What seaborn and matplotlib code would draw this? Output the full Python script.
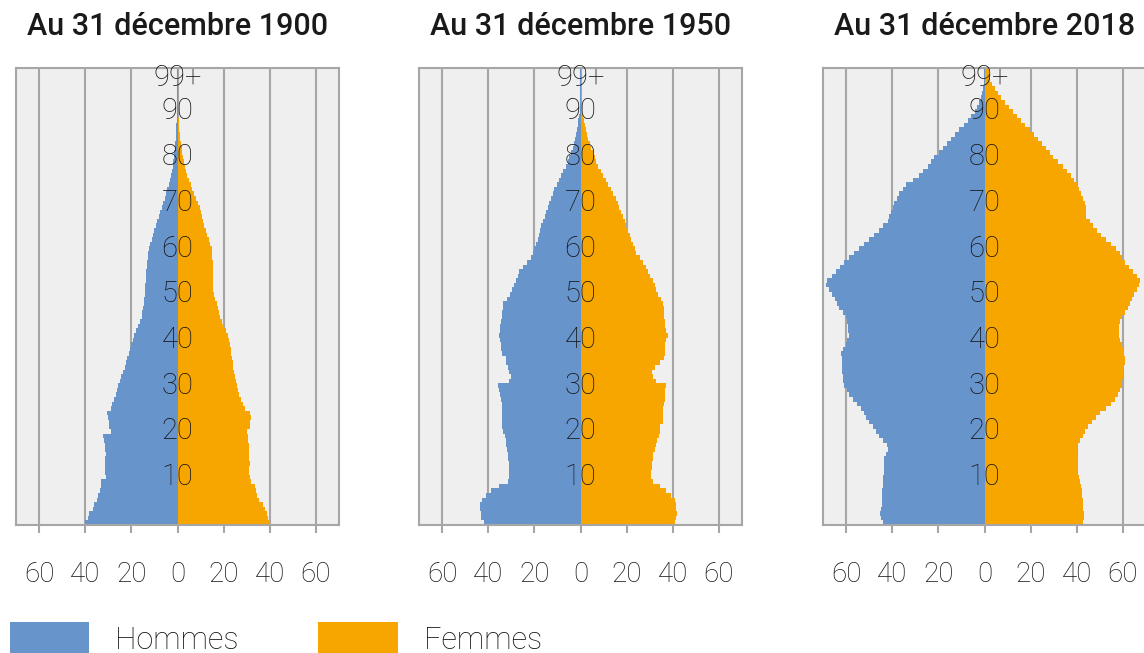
import pandas as pd
import numpy as np
import matplotlib
matplotlib.use("Agg")
import matplotlib.pyplot as plt
from matplotlib.patches import Patch
import seaborn as sns

# Effectifs par âge (milliers), âges 0 à 99+
ages = list(range(100))
age_labels = ["10", "20", "30", "40", "50", "60", "70", "80", "90", "99+"]
titles = ["Au 31 décembre 1900", "Au 31 décembre 1950", "Au 31 décembre 2018"]
ticks = [-60, -40, -20, 0, 20, 40, 60]
tick_labels = ["60", "40", "20", "0", "20", "40", "60"]

hommes_1900 = [
    40.3, 39.0, 38.2, 36.8, 36.0, 35.0, 34.3, 33.8, 33.2, 33.0,
    31.0, 31.6, 31.5, 31.4, 31.3, 31.2, 31.3, 31.4, 31.8, 32.3,
    28.8, 29.5, 29.7, 30.0, 30.6, 29.0, 28.2, 27.5, 26.8, 26.3,
    25.8, 25.0, 24.3, 23.6, 22.9, 22.3, 21.7, 21.1, 20.5, 20.0,
    19.4, 18.7, 18.0, 17.2, 16.4, 15.6, 15.2, 14.9, 14.6, 14.4,
    14.3, 14.1, 13.9, 13.7, 13.6, 13.5, 13.3, 13.1, 12.9, 12.7,
    12.4, 11.8, 11.2, 10.6, 10.0, 9.4, 8.8, 8.2, 7.5, 6.9,
    6.2, 5.6, 5.0, 4.4, 3.8, 3.3, 2.9, 2.5, 2.1, 1.8,
    1.6, 1.4, 1.2, 1.0, 0.8, 0.7, 0.6, 0.5, 0.4, 0.35,
    0.3, 0.25, 0.2, 0.15, 0.1, 0.1, 0.05, 0.05, 0.03, 0.03,
]
femmes_1900 = [
    40.1, 39.3, 38.7, 37.9, 37.2, 35.5, 34.3, 33.9, 33.6, 32.0,
    31.4, 31.2, 31.2, 31.3, 31.1, 31.2, 31.0, 30.8, 30.7, 30.6,
    30.0, 31.4, 31.6, 31.7, 31.6, 29.3, 28.4, 27.6, 26.8, 26.3,
    25.9, 25.5, 25.0, 24.6, 24.2, 23.9, 23.6, 23.3, 23.0, 22.8,
    22.5, 21.7, 20.9, 20.0, 19.2, 18.4, 17.9, 17.4, 17.0, 16.3,
    15.7, 15.6, 15.6, 15.5, 15.5, 15.4, 15.3, 15.2, 15.0, 14.9,
    14.8, 14.3, 13.8, 13.0, 12.2, 11.4, 11.0, 10.5, 10.0, 9.6,
    9.1, 8.2, 7.3, 6.5, 5.7, 4.9, 4.2, 3.6, 3.1, 2.8,
    2.5, 2.1, 1.8, 1.4, 1.2, 1.0, 0.8, 0.6, 0.5, 0.4,
    0.3, 0.25, 0.2, 0.15, 0.1, 0.08, 0.06, 0.05, 0.04, 0.04,
]
hommes_1950 = [
    41.7, 43.0, 43.3, 43.4, 43.5, 42.8, 41.0, 38.8, 35.2, 31.6,
    30.9, 30.8, 30.9, 31.1, 31.6, 31.6, 32.0, 32.3, 32.4, 32.6,
    33.8, 34.0, 34.0, 34.1, 34.0, 34.2, 34.1, 34.3, 35.0, 35.3,
    35.9, 30.9, 30.1, 30.9, 31.6, 32.3, 32.5, 34.2, 34.5, 34.6,
    34.8, 35.2, 34.9, 34.8, 34.6, 34.2, 34.0, 33.8, 33.5, 32.0,
    30.5, 29.6, 28.8, 28.0, 27.2, 26.5, 24.8, 23.0, 21.4, 20.6,
    20.0, 19.3, 18.6, 18.1, 17.6, 17.1, 16.4, 15.6, 14.9, 14.2,
    13.5, 12.8, 12.0, 11.3, 10.3, 9.4, 8.4, 7.4, 6.5, 5.5,
    4.8, 4.0, 3.3, 2.8, 2.3, 1.9, 1.5, 1.2, 0.9, 0.6,
    0.4, 0.3, 0.2, 0.15, 0.1, 0.08, 0.06, 0.05, 0.04, 0.04,
]
femmes_1950 = [
    40.9, 41.5, 41.7, 41.6, 41.5, 40.9, 39.4, 37.2, 34.3, 31.4,
    30.7, 30.6, 30.8, 31.2, 31.4, 31.6, 32.5, 32.9, 33.2, 34.0,
    34.3, 34.6, 35.6, 35.8, 35.9, 35.8, 36.3, 36.5, 36.6, 36.8,
    37.2, 32.9, 31.4, 31.2, 32.2, 34.3, 36.2, 36.5, 36.6, 36.8,
    37.2, 38.0, 37.2, 36.6, 36.5, 36.4, 36.3, 36.0, 35.8, 35.0,
    33.6, 32.9, 32.1, 31.4, 30.3, 29.3, 28.2, 27.1, 25.6, 24.2,
    23.5, 22.7, 22.0, 21.3, 20.6, 19.9, 19.2, 18.4, 17.7, 16.9,
    16.2, 15.2, 14.3, 13.3, 12.1, 10.9, 9.7, 8.7, 7.8, 6.8,
    6.1, 5.3, 4.6, 4.0, 3.4, 2.8, 2.3, 1.8, 1.4, 1.0,
    0.6, 0.4, 0.3, 0.2, 0.15, 0.1, 0.08, 0.06, 0.05, 0.05,
]
hommes_2018 = [
    44.2, 45.0, 45.2, 45.0, 44.6, 44.5, 44.4, 44.5, 44.0, 43.9,
    43.8, 43.6, 43.5, 43.4, 43.5, 42.5, 42.0, 42.2, 44.0, 45.7,
    47.0, 48.5, 50.0, 51.2, 52.4, 53.6, 55.3, 57.0, 58.7, 59.8,
    60.9, 61.2, 61.4, 61.6, 61.7, 61.8, 61.9, 62.3, 61.5, 60.1,
    59.4, 58.7, 59.0, 59.2, 59.4, 60.1, 61.5, 63.0, 64.0, 65.0,
    66.2, 67.5, 68.6, 68.2, 66.3, 64.5, 62.7, 60.9, 58.7, 56.5,
    54.3, 52.2, 50.0, 47.8, 45.7, 43.8, 42.0, 41.3, 40.6, 39.8,
    39.1, 38.0, 37.0, 35.5, 34.0, 31.2, 28.3, 26.5, 24.6, 23.1,
    21.7, 19.9, 18.1, 16.3, 14.5, 12.7, 10.9, 9.1, 7.2, 5.8,
    4.3, 3.2, 2.2, 1.6, 1.0, 0.7, 0.4, 0.3, 0.2, 0.4,
]
femmes_2018 = [
    42.8, 43.0, 43.1, 42.9, 42.6, 42.5, 42.4, 42.1, 42.0, 41.6,
    40.8, 40.6, 40.5, 40.6, 40.5, 40.3, 40.2, 40.4, 41.3, 42.6,
    43.5, 45.0, 46.4, 48.2, 50.0, 52.5, 55.0, 56.5, 58.0, 58.8,
    59.4, 59.7, 59.9, 60.1, 60.4, 60.7, 60.9, 60.6, 60.1, 59.4,
    58.7, 58.5, 58.3, 58.4, 58.8, 59.4, 60.8, 62.3, 63.2, 63.9,
    64.8, 66.0, 67.1, 67.4, 66.0, 64.5, 62.7, 60.9, 59.8, 58.7,
    56.8, 55.0, 52.8, 50.7, 48.9, 47.1, 45.6, 44.2, 44.0, 43.9,
    43.5, 42.7, 42.0, 41.0, 39.9, 38.8, 37.7, 35.9, 34.1, 31.9,
    29.7, 28.2, 26.8, 25.0, 23.2, 21.4, 19.6, 17.7, 15.9, 14.1,
    12.3, 10.5, 8.7, 7.2, 5.8, 4.5, 3.3, 2.6, 1.9, 2.0,
]

series = [
    (hommes_1900, femmes_1900),
    (hommes_1950, femmes_1950),
    (hommes_2018, femmes_2018),
]

BLUE = "#6894cc"
ORANGE = "#f7a600"
GRAY = "#a6a6a6"
TXT = "#141414"

sns.set_style("white")
plt.rcParams["font.family"] = ["Roboto", "DejaVu Sans"]

fig = plt.figure(figsize=(11.44, 6.53), dpi=100)

lefts = [16, 419, 823]
for i, (hom, fem) in enumerate(series):
    ax = fig.add_axes([lefts[i] / 1144, 128 / 653, 323 / 1144, 457 / 653])
    df = pd.DataFrame({
        "age": ages + ages,
        "valeur": [-v for v in hom] + list(fem),
        "sexe": ["Hommes"] * 100 + ["Femmes"] * 100,
    })
    sns.barplot(data=df, x="valeur", y="age", hue="sexe", orient="h",
                native_scale=True, dodge=False, width=1, errorbar=None,
                palette={"Hommes": BLUE, "Femmes": ORANGE}, saturation=1,
                linewidth=0, legend=False, ax=ax)
    ax.set_facecolor("#efefef")
    ax.set_xlim(-70, 70)
    ax.set_ylim(-0.5, 99.5)
    ax.grid(False)
    for t in ticks:
        ax.axvline(t, color=GRAY, lw=1.5, zorder=0)
    for s in ax.spines.values():
        s.set_visible(True)
        s.set_color(GRAY)
        s.set_linewidth(1.5)
    ax.set_xticks(ticks)
    ax.set_xticklabels(tick_labels, fontsize=20, fontweight="light", color=TXT)
    ax.tick_params(axis="x", direction="out", length=6, width=1.5,
                   color=GRAY, pad=20, bottom=True)
    ax.set_yticks([])
    ax.set_xlabel("")
    ax.set_ylabel("")
    for k, lab in enumerate(age_labels):
        y = 97.3 if lab == "99+" else (k + 1) * 10
        ax.text(0, y, lab, ha="center", va="center", fontsize=21,
                fontweight="light", color=TXT, zorder=5)
    ax.set_title(titles[i], fontsize=22, fontweight="medium", color="#1a1a1a", pad=24)

handles = [Patch(facecolor=BLUE, edgecolor="none"), Patch(facecolor=ORANGE, edgecolor="none")]
leg = fig.legend(handles, ["Hommes", "Femmes"], loc="upper left",
                 bbox_to_anchor=(10 / 1144, 0.0475), ncol=2, frameon=False,
                 fontsize=22, handlelength=2.6, handleheight=1.3,
                 handletextpad=0.85, columnspacing=2.6, borderpad=0.0,
                 borderaxespad=0.0)
for t in leg.get_texts():
    t.set_color(TXT)
    t.set_fontweight("light")

fig.savefig("out.png", dpi=100)
